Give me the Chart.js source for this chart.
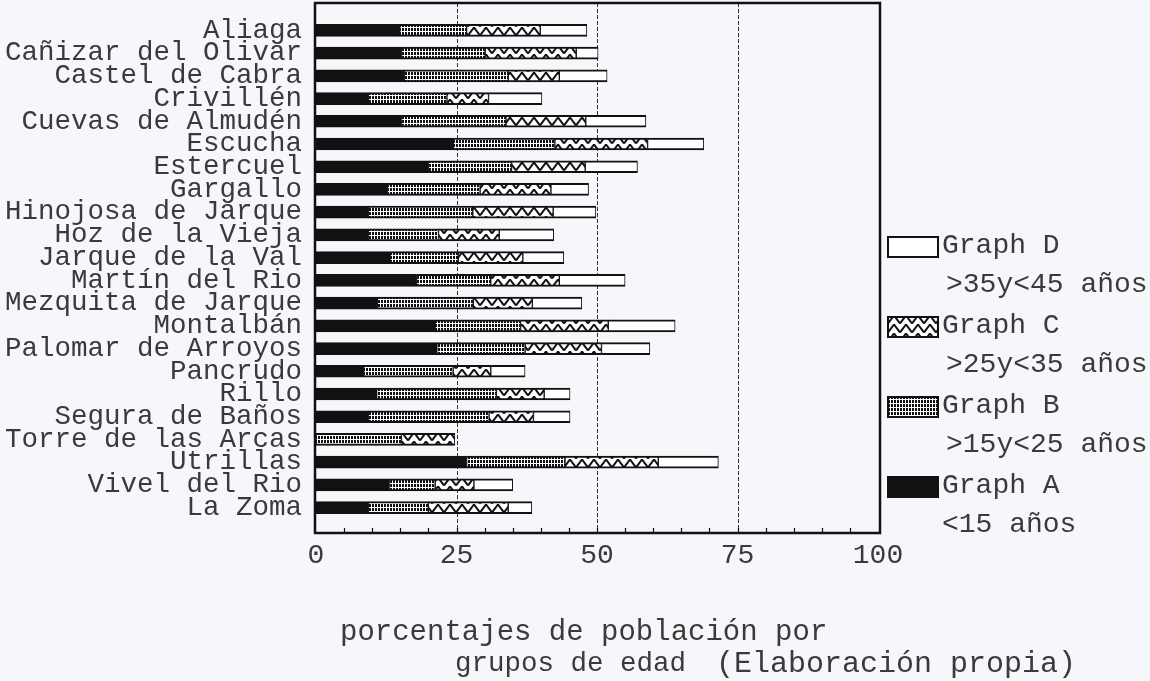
<!DOCTYPE html>
<html>
<head>
<meta charset="utf-8">
<script src="https://cdn.jsdelivr.net/npm/chart.js@4"></script>
<style>
  html, body { margin: 0; padding: 0; background: #f6f7fb; }
  canvas { display: block; }
</style>
</head>
<body>
<canvas id="grafico" width="1150" height="681"></canvas>
<script>
// municipios y porcentajes por grupo de edad
const pueblos = [
  'Aliaga', 'Cañizar del Olivar', 'Castel de Cabra', 'Crivillén',
  'Cuevas de Almudén', 'Escucha', 'Estercuel', 'Gargallo',
  'Hinojosa de Jarque', 'Hoz de la Vieja', 'Jarque de la Val',
  'Martín del Rio', 'Mezquita de Jarque', 'Montalbán',
  'Palomar de Arroyos', 'Pancrudo', 'Rillo', 'Segura de Baños',
  'Torre de las Arcas', 'Utrillas', 'Vivel del Rio', 'La Zoma'
];
const menos15 = [14.9, 15.2, 15.7, 9.3, 15.2, 24.4, 20.0, 12.7, 9.3, 9.3, 13.2,
                 17.9, 10.9, 21.2, 21.5, 8.5, 10.8, 9.3, 0, 26.8, 13.0, 9.3];
const de15a25 = [11.9, 14.9, 18.5, 14.0, 18.6, 18.1, 14.8, 16.5, 18.6, 12.5, 12.1,
                 13.2, 17.1, 15.2, 15.7, 15.9, 21.3, 21.5, 15.2, 17.5, 8.2, 10.7];
const de25a35 = [13.1, 16.2, 9.1, 7.4, 14.2, 16.5, 13.1, 12.6, 14.3, 10.8, 11.5,
                 12.2, 10.5, 15.6, 13.6, 6.7, 8.5, 7.9, 9.5, 16.6, 6.9, 14.2];
const de35a45 = [8.3, 3.9, 8.5, 9.5, 10.7, 10.0, 9.3, 6.7, 7.6, 9.7, 7.3,
                 11.7, 8.8, 11.9, 8.6, 6.1, 4.6, 6.5, 0, 10.7, 6.9, 4.2];
const marcasX = [0, 25, 50, 75, 100];
const nombres = ['Graph A', 'Graph B', 'Graph C', 'Graph D'];
const rangos = ['<15 años', '>15y<25 años', '>25y<35 años', '>35y<45 años'];

const ctx = document.getElementById('grafico').getContext('2d');
const fuente = '"Liberation Mono", "DejaVu Sans Mono", monospace';
const tinta = '#111';
const texto = '#3a3a3a';

// tramas de relleno
function tramaRejilla() {
  const c = document.createElement('canvas');
  c.width = 3; c.height = 4;
  const g = c.getContext('2d');
  g.fillStyle = '#fff'; g.fillRect(0, 0, 3, 4);
  g.fillStyle = tinta; g.fillRect(0, 0, 2, 3);
  return ctx.createPattern(c, 'repeat');
}
function tramaZigzag() {
  const c = document.createElement('canvas');
  c.width = 12; c.height = 9;
  const g = c.getContext('2d');
  g.fillStyle = '#fff'; g.fillRect(0, 0, 12, 9);
  g.strokeStyle = tinta; g.lineWidth = 2;
  g.beginPath();
  g.moveTo(0, 8.5); g.lineTo(6, 0.5); g.lineTo(12, 8.5);
  g.stroke();
  return ctx.createPattern(c, 'repeat');
}

const rellenos = [tinta, tramaRejilla(), tramaZigzag(), '#fff'];
const series = [menos15, de15a25, de25a35, de35a45];

const marco = {
  id: 'marco',
  beforeDraw(chart) {
    const c = chart.ctx;
    c.save();
    c.fillStyle = '#f6f7fb';
    c.fillRect(0, 0, chart.width, chart.height);
    c.restore();
  },
  beforeDatasetsDraw(chart) {
    const c = chart.ctx, x = chart.scales.x, a = chart.chartArea;
    const top = a.top - 16, bottom = a.bottom + 14;
    c.save();
    c.strokeStyle = '#333';
    c.lineWidth = 1;
    c.setLineDash([4, 2]);
    [25, 50, 75].forEach(v => {
      const px = Math.round(x.getPixelForValue(v)) + 0.5;
      c.beginPath(); c.moveTo(px, top); c.lineTo(px, bottom); c.stroke();
    });
    c.restore();
  },
  afterDatasetsDraw(chart) {
    const c = chart.ctx, x = chart.scales.x, a = chart.chartArea;
    const left = x.getPixelForValue(0) - 1, right = x.getPixelForValue(100) + 2;
    const top = a.top - 16, bottom = a.bottom + 14;
    c.save();
    c.strokeStyle = tinta;
    c.lineWidth = 2.5;
    c.strokeRect(left, top, right - left, bottom - top);
    c.lineWidth = 1.2;
    for (let v = 5; v < 100; v += 5) {
      const px = Math.round(x.getPixelForValue(v)) + 0.5;
      c.beginPath(); c.moveTo(px, bottom); c.lineTo(px, bottom - 5); c.stroke();
    }
    c.restore();
  },
  afterDraw(chart) {
    const c = chart.ctx;
    c.save();
    c.textBaseline = 'middle';
    // leyenda a la derecha, de D a A
    c.font = '28px ' + fuente;
    for (let k = 0; k < 4; k++) {
      const i = 3 - k;
      const y = 246 + k * 80;
      c.fillStyle = rellenos[i];
      c.fillRect(888, y - 9, 50, 20);
      c.strokeStyle = tinta; c.lineWidth = 2;
      c.strokeRect(888, y - 9, 50, 20);
      c.fillStyle = texto;
      c.fillText(nombres[i], 942, y);
      c.fillText(rangos[i], i === 0 ? 942 : 946, y + 39);
    }
    // rótulo del eje y fuente
    c.fillStyle = texto;
    c.font = '29px ' + fuente;
    c.fillText('porcentajes de población por', 340, 632);
    c.font = '27.5px ' + fuente;
    c.fillText('grupos de edad', 455, 664);
    c.font = '30px ' + fuente;
    c.fillText('(Elaboración propia)', 716, 664);
    c.restore();
  }
};

new Chart(ctx, {
  type: 'bar',
  data: {
    labels: pueblos,
    datasets: series.map((d, i) => ({
      label: nombres[i],
      data: d,
      backgroundColor: rellenos[i],
      borderColor: tinta,
      borderWidth: { top: 2, bottom: 2, left: 1, right: 1 },
      borderSkipped: false,
      barThickness: 12
    }))
  },
  options: {
    indexAxis: 'y',
    responsive: false,
    animation: false,
    layout: { padding: { top: 19, right: 272, bottom: 0, left: 0 } },
    plugins: { legend: { display: false }, tooltip: { enabled: false } },
    scales: {
      x: {
        stacked: true,
        min: 0,
        max: 100,
        afterBuildTicks: s => { s.ticks = marcasX.map(v => ({ value: v })); },
        afterFit: s => { s.height = 162; },
        grid: { display: false, drawTicks: false },
        border: { display: false },
        ticks: { padding: 20, color: texto, font: { family: fuente, size: 28 } }
      },
      y: {
        stacked: true,
        afterFit: s => { s.width = 316; s.paddingTop = 0; s.paddingBottom = 0; },
        grid: { display: false, drawTicks: false },
        border: { display: false },
        ticks: {
          autoSkip: false,
          padding: 14,
          color: texto,
          font: { family: fuente, size: 27.5 }
        }
      }
    }
  },
  plugins: [marco]
});
</script>
</body>
</html>
